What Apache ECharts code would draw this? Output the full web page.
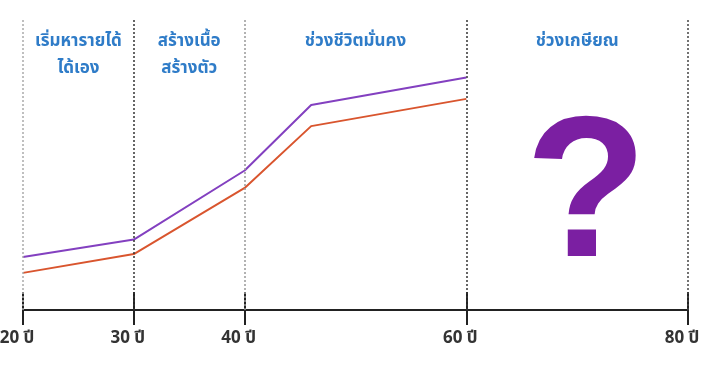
<!DOCTYPE html>
<html><head><meta charset="utf-8">
<script src="https://cdn.jsdelivr.net/npm/echarts@6/dist/echarts.min.js"></script>
<style>html,body{margin:0;padding:0;background:#fff}#c{width:706px;height:369px}</style>
</head><body><div id="c"></div>
<script>
const ages = [20, 30, 40, 46, 60];
const purpleValues = [18.3, 24.3, 48.1, 70.7, 80.2];
const orangeValues = [12.8, 19.3, 42.1, 63.4, 72.8];
const tickAges = [20, 30, 40, 60, 80];
const tickLabels = ['20 ปี', '30 ปี', '40 ปี', '60 ปี', '80 ปี'];
const stageRanges = [[20, 30], [30, 40], [40, 60], [60, 80]];
const stageLabels = ['เริ่มหารายได้\nได้เอง', 'สร้างเนื้อ\nสร้างตัว', 'ช่วงชีวิตมั่นคง', 'ช่วงเกษียณ'];
const dividerColors = ['#aaa', '#333', '#999', '#333', '#444'];

const FONT = "'Noto Sans Thai', 'Noto Sans', 'DejaVu Sans', sans-serif";
const chart = echarts.init(document.getElementById('c'));
const labelOf = v => tickLabels[tickAges.indexOf(v)] || '';
const baseX = {
  type: 'value', min: 20, max: 80, position: 'bottom', offset: 0,
  splitLine: { show: false }
};
chart.setOption({
  animation: false,
  grid: { left: 23, right: 18, top: 20, bottom: 59, containLabel: false, outerBoundsMode: 'none' },
  xAxis: [
    Object.assign({}, baseX, {
      axisLine: { lineStyle: { color: '#222', width: 2 } },
      axisTick: { inside: true, length: 18, customValues: tickAges, lineStyle: { color: '#222', width: 2 } },
      axisLabel: { customValues: tickAges, formatter: labelOf, margin: 21, padding: [0, 12, 0, 0], color: '#333', fontSize: 17, fontWeight: 'bold', fontFamily: FONT }
    }),
    Object.assign({}, baseX, {
      axisLine: { show: false },
      axisTick: { inside: false, length: 15, customValues: tickAges, lineStyle: { color: '#222', width: 2 } },
      axisLabel: { show: false }
    })
  ],
  yAxis: { type: 'value', min: 0, max: 100, show: false },
  series: [
    {
      type: 'line', name: 'purple', symbol: 'none',
      data: ages.map((a, i) => [a, purpleValues[i]]),
      lineStyle: { color: '#8340c0', width: 2 },
      markLine: {
        silent: true, symbol: 'none', label: { show: false },
        data: tickAges.map((a, i) => ({ xAxis: a, lineStyle: { color: dividerColors[i], type: [2, 2], width: 1.5 } }))
      },
      markArea: {
        silent: true, itemStyle: { color: 'rgba(0,0,0,0)' },
        label: { position: 'insideTop', distance: 9, color: '#2f7cc8', fontSize: 17, fontWeight: 'bold', lineHeight: 27, fontFamily: FONT },
        data: stageRanges.map((r, i) => [{ xAxis: r[0], name: stageLabels[i] }, { xAxis: r[1] }])
      }
    },
    {
      type: 'line', name: 'orange', symbol: 'none',
      data: ages.map((a, i) => [a, orangeValues[i]]),
      lineStyle: { color: '#d9552e', width: 2 }
    }
  ],
  graphic: [{
    type: 'text', x: 586, y: 201,
    style: { text: '?', fill: '#7b1fa2', font: "bold 200px 'Liberation Sans', sans-serif", align: 'center', verticalAlign: 'middle' }
  }]
});
</script></body></html>
